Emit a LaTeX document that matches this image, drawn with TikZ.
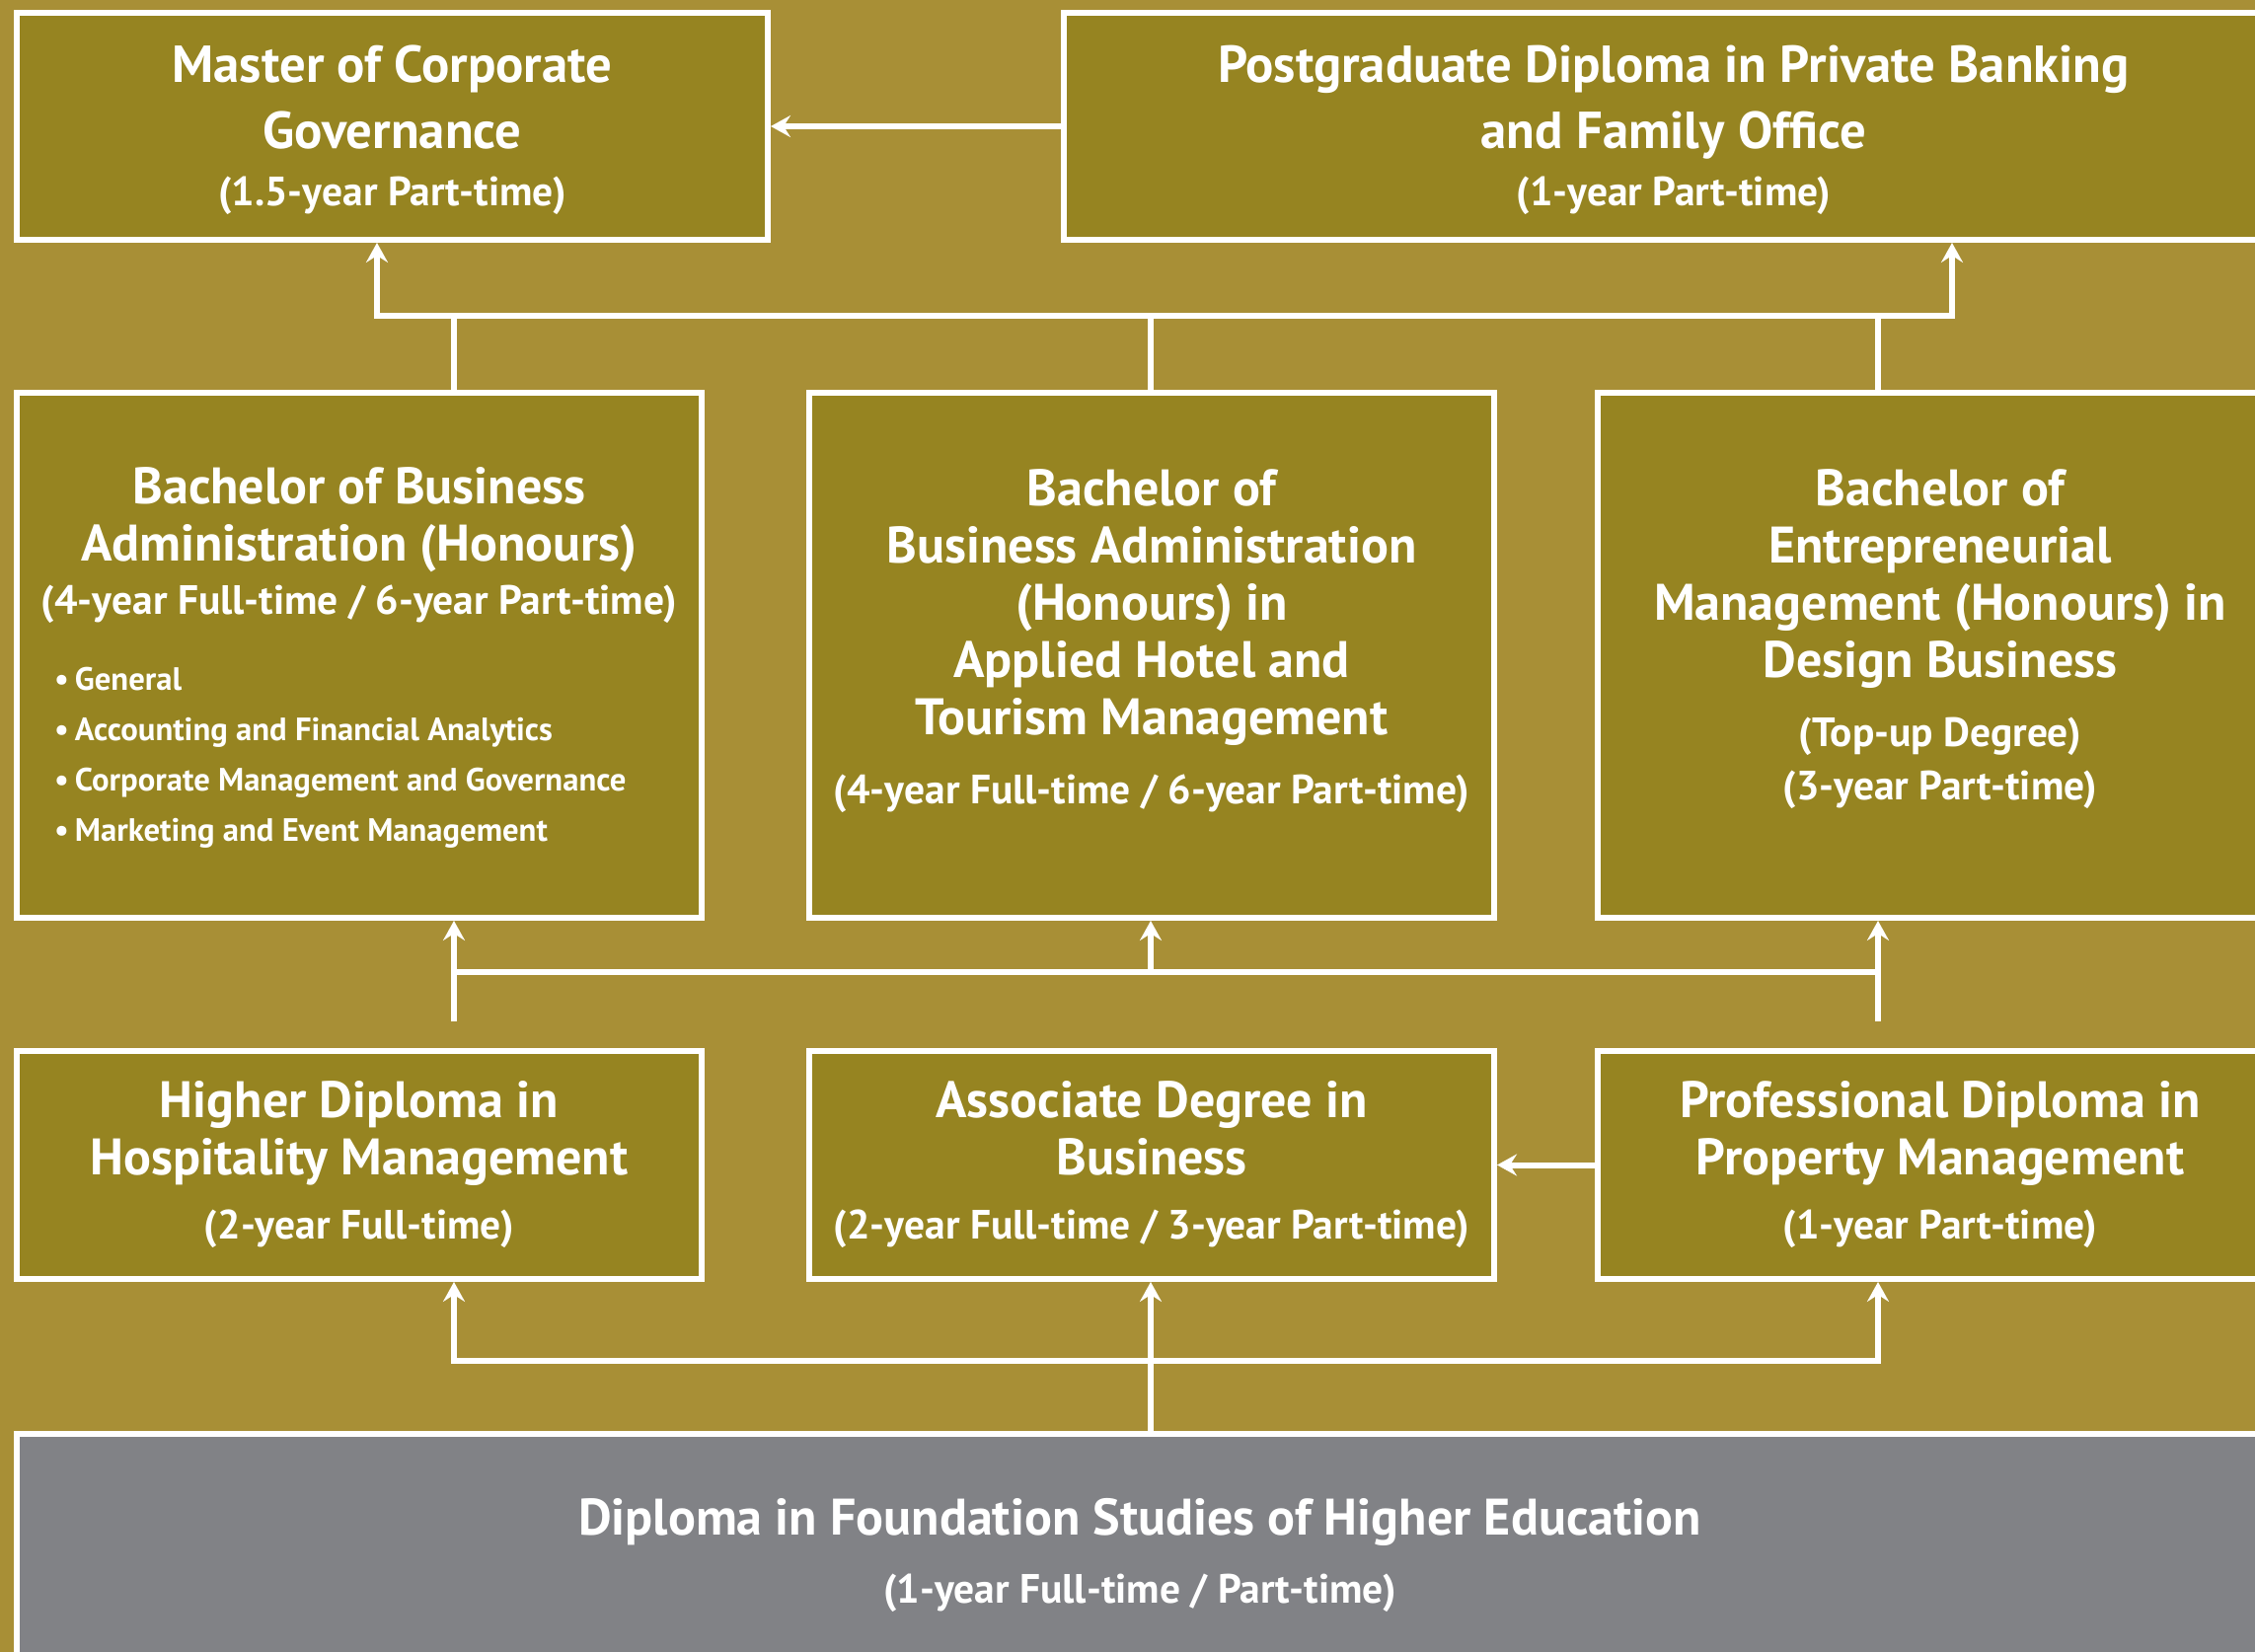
\documentclass[tikz,border=0pt]{standalone}
\usepackage{fontspec}
\setmainfont{PT Sans}
\usepackage{xcolor}
\usepackage{tikz}
\usetikzlibrary{arrows.meta}
\usetikzlibrary{positioning}
\definecolor{goldbg}{RGB}{168,143,54}
\definecolor{goldbox}{RGB}{150,132,33}
\definecolor{foundgray}{RGB}{129,130,134}
\newcommand{\toptitle}{\fontsize{15}{19}\selectfont\bfseries}
\newcommand{\boxtitle}{\fontsize{14.8}{16.5}\selectfont\bfseries}
\newcommand{\subsize}{\fontsize{11.8}{15}\selectfont}
\newcommand{\bulsize}{\fontsize{9.3}{14.5}\selectfont}
\newcommand{\streamline}[1]{\makebox[6.18cm][l]{\bulsize\makebox[0.21cm][l]{\textbullet}#1}}
\tikzset{prog-line/.style={line width=0.06cm, draw=white}}
\tikzset{>={Stealth[length=2mm, width=2.2mm, inset=0.7mm]}}
\tikzset{prog-box/.style={draw=white, line width=0.06cm, fill=goldbox, text=white, align=center, inner sep=0, minimum width=6.94cm}}
\tikzset{prog-found/.style={draw=white, line width=0.06cm, fill=foundgray, text=white, align=center, inner sep=0}}

\begin{document}
\begin{tikzpicture}[]
            \useasboundingbox (0,0) rectangle (22.85,-16.74);
            \clip (0,0) rectangle (22.85,-16.74);
            \fill[goldbg] (0,0) rectangle (22.85,-16.74);

            % postgraduate level
            \node[prog-box, minimum width=7.61cm, minimum height=2.30cm, font=\toptitle, text depth=0.02cm] (master) at (3.975,-1.28) {Master of Corporate\\Governance\\[-2.5pt]\subsize (1.5-year Part-time)};
            \node[prog-box, minimum width=12.36cm, minimum height=2.30cm, font=\toptitle, text depth=0.02cm, right=2.94cm of master] (pgdip) {Postgraduate Diploma in Private Banking\\and Family Office\\[-2.5pt]\subsize (1-year Part-time)};

            % degree level
            \node[prog-box, minimum height=5.32cm, font=\boxtitle, text depth=0.02cm] (bba) at (3.64,-6.64) {Bachelor of Business\\Administration (Honours)\\[-1.1pt]\subsize (4-year Full-time / 6-year Part-time)\\[5.4pt]\streamline{General}\\[-2pt]\streamline{Accounting and Financial Analytics}\\[-2pt]\streamline{Corporate Management and Governance}\\[-2pt]\streamline{Marketing and Event Management}};
            \node[prog-box, minimum height=5.32cm, font=\boxtitle, text depth=0.38cm, right=1.03cm of bba] (bbahtm) {Bachelor of\\Business Administration\\(Honours) in\\Applied Hotel and\\Tourism Management\\[3.4pt]\subsize (4-year Full-time / 6-year Part-time)};
            \node[prog-box, minimum height=5.32cm, font=\boxtitle, text depth=0.42cm, right=0.99cm of bbahtm] (bem) {Bachelor of\\Entrepreneurial\\Management (Honours) in\\Design Business\\[3.4pt]\subsize (Top-up Degree)\\[-1.1pt]\subsize (3-year Part-time)};

            % sub-degree level
            \node[prog-box, minimum height=2.31cm, font=\boxtitle] (hdhm) at (3.64,-11.805) {Higher Diploma in\\Hospitality Management\\[2pt]\subsize (2-year Full-time)};
            \node[prog-box, minimum height=2.31cm, font=\boxtitle, right=1.03cm of hdhm] (adb) {Associate Degree in\\Business\\[2pt]\subsize (2-year Full-time / 3-year Part-time)};
            \node[prog-box, minimum height=2.31cm, font=\boxtitle, right=0.99cm of adb] (pdpm) {Professional Diploma in\\Property Management\\[2pt]\subsize (1-year Part-time)};

            % foundation
            \node[prog-found, minimum width=22.76cm, minimum height=2.46cm, font=\boxtitle] (dfs) at (11.55,-15.76) {Diploma in Foundation Studies of Higher Education\\[3.1pt]\subsize (1-year Full-time / Part-time)};

            \coordinate (col1) at (4.60,0);
            \coordinate (col2) at (11.66,0);
            \coordinate (col3) at (19.03,0);
            \coordinate (up1) at (3.82,0);
            \coordinate (up2) at (19.78,0);
            \coordinate (bar1) at (0,-3.20);
            \coordinate (bar2) at (0,-9.85);
            \coordinate (stub) at (0,-10.35);
            \coordinate (bar3) at (0,-13.79);

            \draw[->, prog-line] (pgdip.west) -- (master.east);
            \draw[<->, prog-line] (up1 |- master.south) -- (up1 |- bar1) -- (up2 |- bar1) -- (up2 |- pgdip.south);
            \draw[prog-line] (col1 |- bba.north) -- (col1 |- bar1);
            \draw[prog-line] (col2 |- bbahtm.north) -- (col2 |- bar1);
            \draw[prog-line] (col3 |- bem.north) -- (col3 |- bar1);

            \draw[prog-line] (col1 |- bar2) -- (col3 |- bar2);
            \draw[->, prog-line] (col1 |- stub) -- (col1 |- bba.south);
            \draw[->, prog-line] (col2 |- bar2) -- (col2 |- bbahtm.south);
            \draw[->, prog-line] (col3 |- stub) -- (col3 |- bem.south);

            \draw[->, prog-line] (pdpm.west) -- (adb.east);
            \draw[<->, prog-line] (col1 |- hdhm.south) -- (col1 |- bar3) -- (col3 |- bar3) -- (col3 |- pdpm.south);
            \draw[->, prog-line] (col2 |- dfs.north) -- (col2 |- adb.south);
        \end{tikzpicture}
\end{document}
